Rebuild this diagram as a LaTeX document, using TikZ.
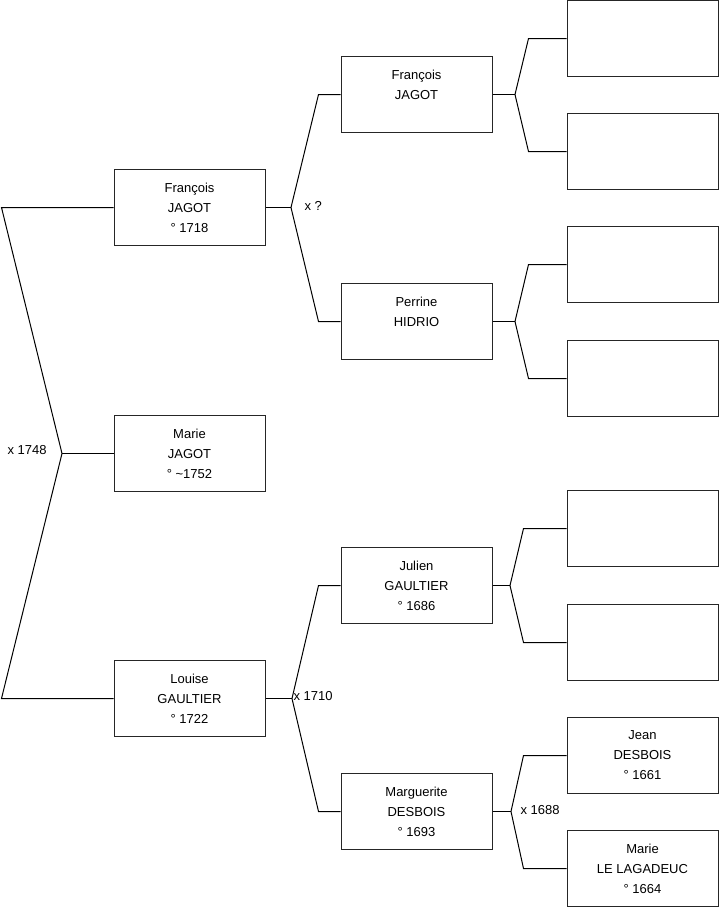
\documentclass[tikz,border=0pt]{standalone}
\usepackage{fontspec}
\setmainfont{Liberation Sans}
\usetikzlibrary{calc}

\begin{document}
\begin{tikzpicture}[x=1pt, y=-1pt, line width=1pt,
      person/.style={draw=black!85, fill=white, align=center, minimum width=151pt, minimum height=76pt,
                     inner sep=0pt, font=\fontsize{13}{20}\selectfont},
      wed/.style={inner sep=0pt, font=\fontsize{13}{16}\selectfont},
      link/.style={draw=black, line width=1pt}]
      \useasboundingbox (0,0) rectangle (719,908);
      % generation 1
      \node[person] (fj)  at (189.5,207.5) {François\\JAGOT\\° 1718};
      \node[person] (mj)  at (189.5,453.5) {Marie\\JAGOT\\° \textasciitilde1752};
      \node[person] (lg)  at (189.5,698.5) {Louise\\GAULTIER\\° 1722};
      % generation 2
      \node[person] (fjp) at (416.5,94.5)  {François\\JAGOT\\~};
      \node[person] (ph)  at (416.5,321.5) {Perrine\\HIDRIO\\~};
      \node[person] (jg)  at (416.5,585.5) {Julien\\GAULTIER\\° 1686};
      \node[person] (md)  at (416.5,811.5) {Marguerite\\DESBOIS\\° 1693};
      % generation 3
      \node[person] (e1)  at (642.5,38.5)  {};
      \node[person] (e2)  at (642.5,151.5) {};
      \node[person] (e3)  at (642.5,264.5) {};
      \node[person] (e4)  at (642.5,378.5) {};
      \node[person] (e5)  at (642.5,528.5) {};
      \node[person] (e6)  at (642.5,642.5) {};
      \node[person] (jd)  at (642.5,755.5) {Jean\\DESBOIS\\° 1661};
      \node[person] (ml)  at (642.5,868.5) {Marie\\LE LAGADEUC\\° 1664};
      % fork points
      \coordinate (k0) at (62,453.5);
      \coordinate (k1) at (291,207.5);
      \coordinate (k2) at (292,698.5);
      \coordinate (k3) at (515,94.5);
      \coordinate (k4) at (515,321.5);
      \coordinate (k5) at (510,585.5);
      \coordinate (k6) at (511,811.5);
      % links
      \draw[link] (fj.west) -- ($(fj.west)+(-112,0)$) -- (k0) -- ($(lg.west)+(-112,0)$) -- (lg.west);
      \draw[link] (k0) -- (mj.west);
      \draw[link] (fj.east) -- (k1);
      \draw[link] (fjp.west) -- ++(-22,0) -- (k1) -- ($(ph.west)+(-22,0)$) -- (ph.west);
      \draw[link] (lg.east) -- (k2);
      \draw[link] (jg.west) -- ++(-22,0) -- (k2) -- ($(md.west)+(-22,0)$) -- (md.west);
      \draw[link] (fjp.east) -- (k3);
      \draw[link] (e1.west) -- ++(-38,0) -- (k3) -- ($(e2.west)+(-38,0)$) -- (e2.west);
      \draw[link] (ph.east) -- (k4);
      \draw[link] (e3.west) -- ++(-38,0) -- (k4) -- ($(e4.west)+(-38,0)$) -- (e4.west);
      \draw[link] (jg.east) -- (k5);
      \draw[link] (e5.west) -- ++(-43,0) -- (k5) -- ($(e6.west)+(-43,0)$) -- (e6.west);
      \draw[link] (md.east) -- (k6);
      \draw[link] (jd.west) -- ++(-43,0) -- (k6) -- ($(ml.west)+(-43,0)$) -- (ml.west);
      % marriages
      \node[wed, anchor=west] (w0) at (7,450)   {x 1748};
      \node[wed, anchor=west] (w1) at (304,206) {x ?};
      \node[wed, anchor=west] (w2) at (293,696) {x 1710};
      \node[wed, anchor=west] (w3) at (520,810) {x 1688};
\end{tikzpicture}
\end{document}
